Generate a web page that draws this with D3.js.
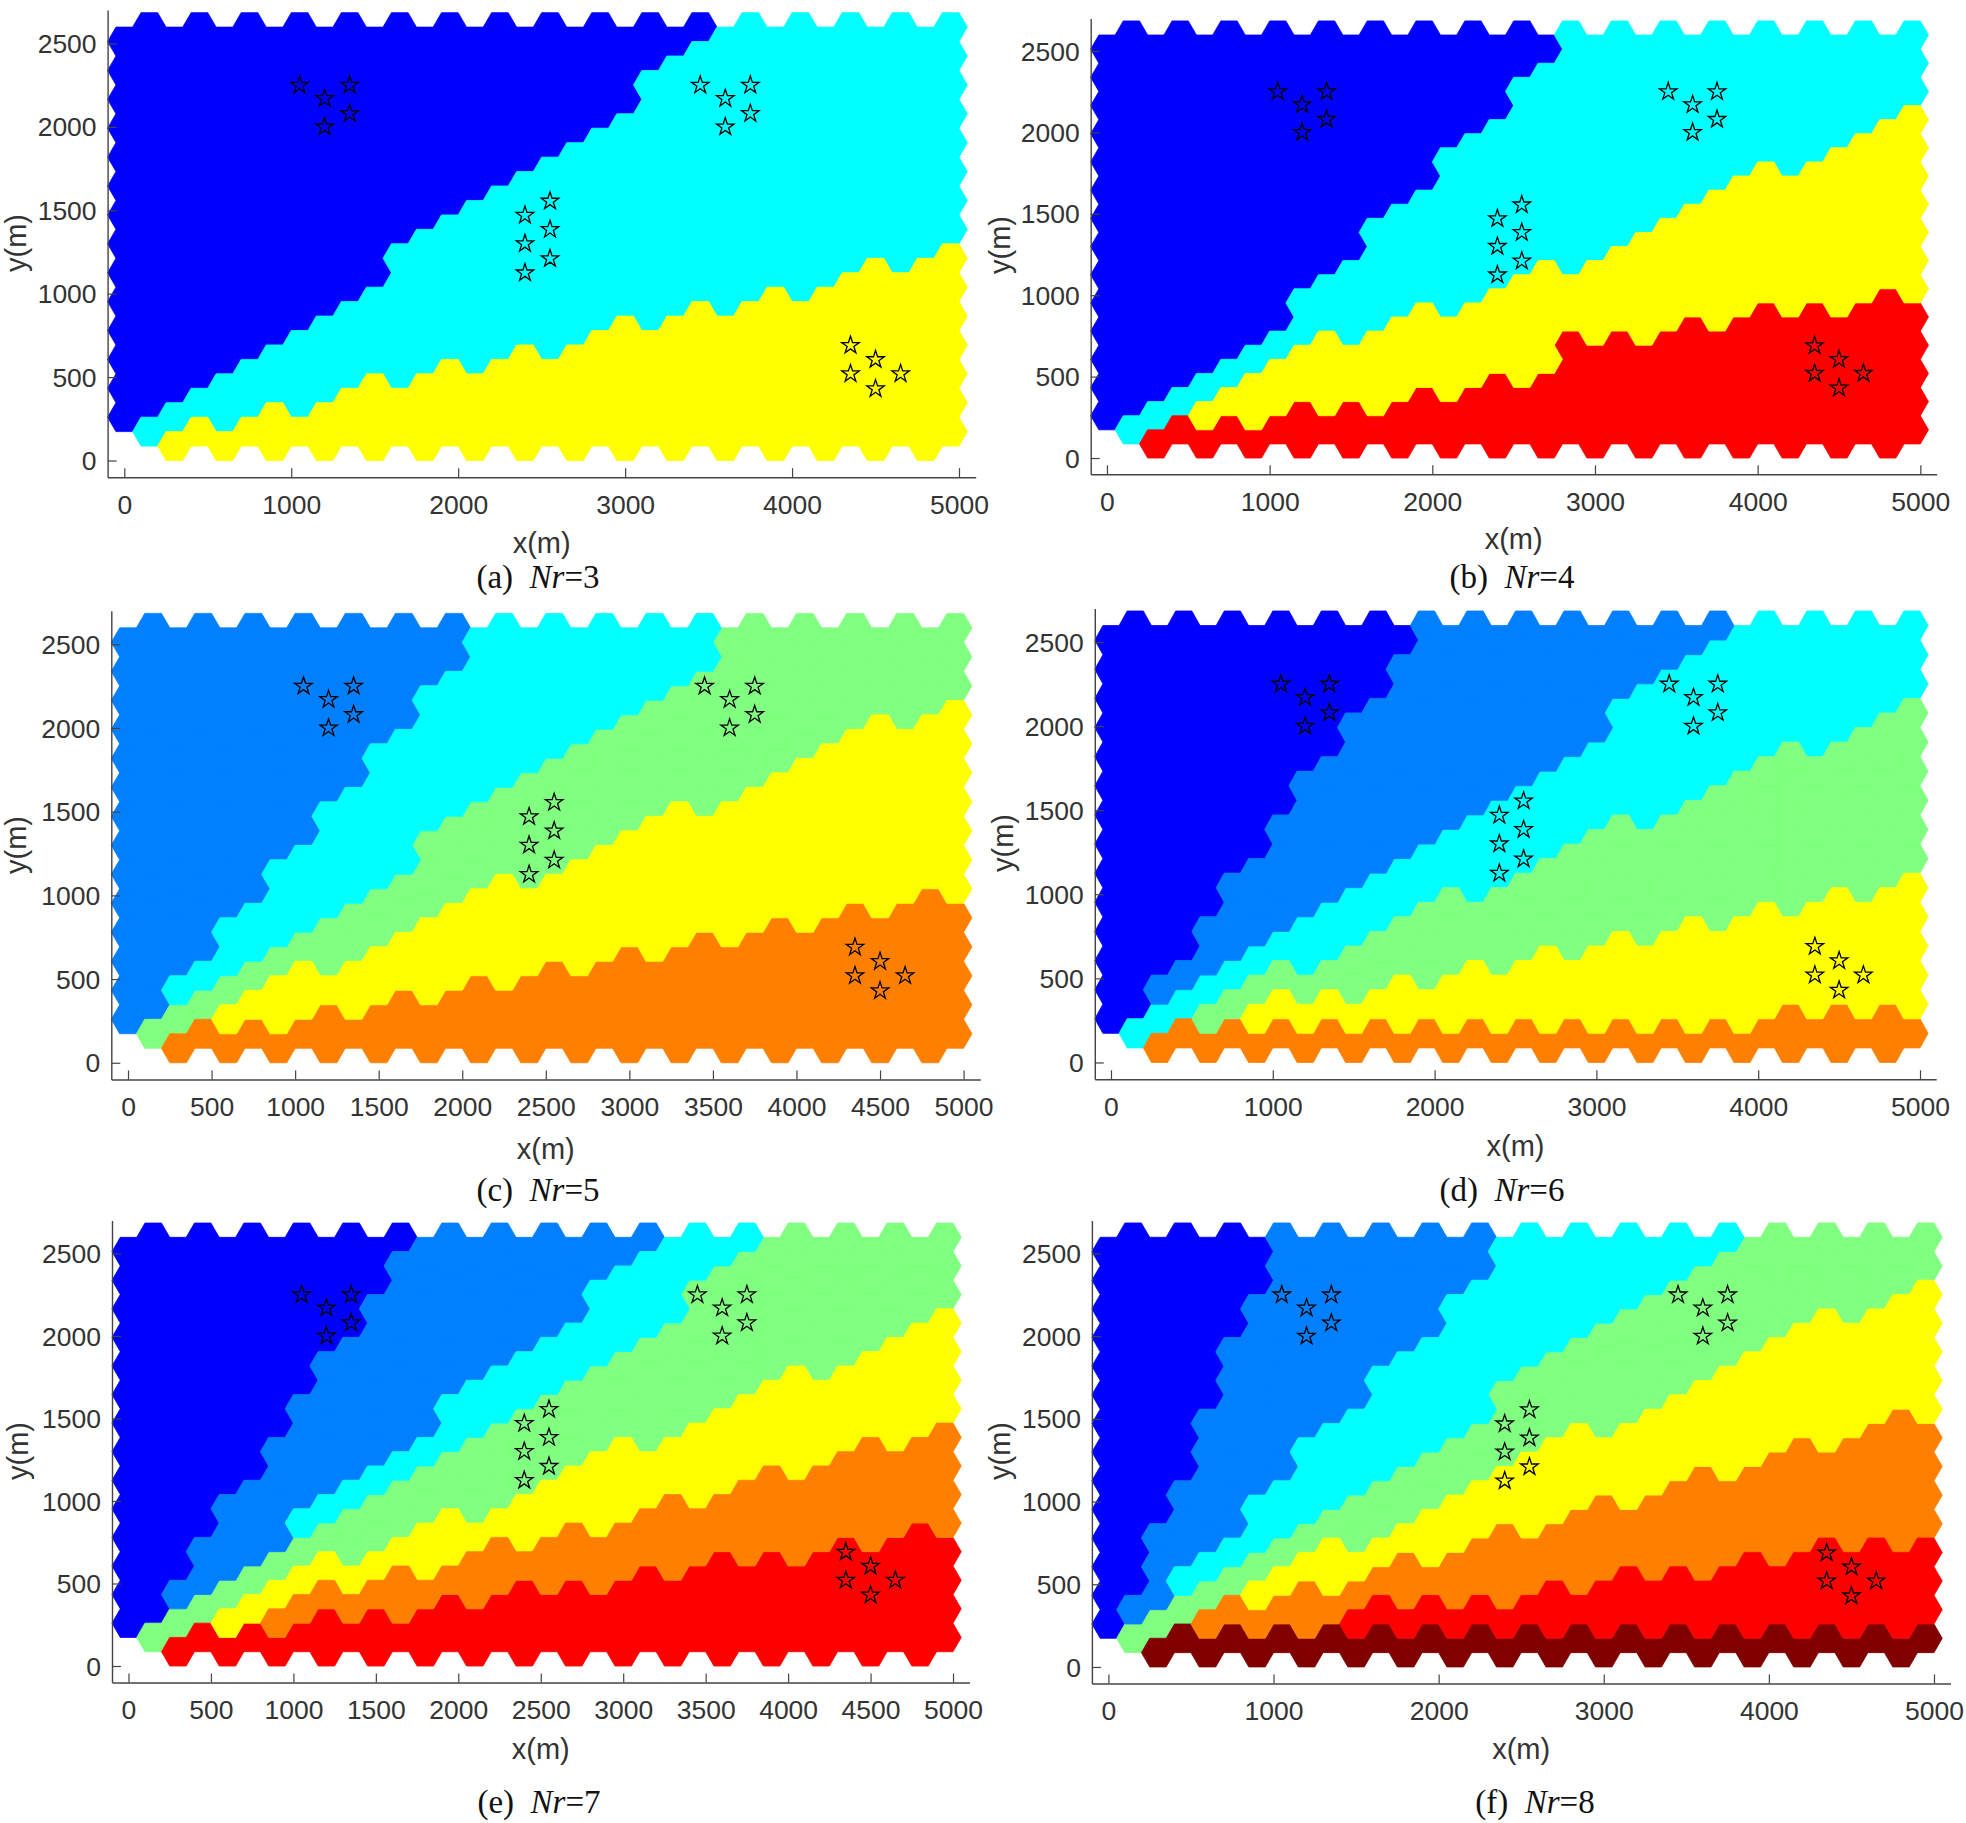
<!DOCTYPE html>
<html>
<head>
<meta charset="utf-8">
<script src="https://d3js.org/d3.v7.min.js"></script>
<style>
html,body{margin:0;padding:0;background:#fff;}
svg{display:block;}
text{font-family:"Liberation Sans",Arial,sans-serif;fill:#333;}
.cap,.cap tspan{font-family:"Liberation Serif","Times New Roman",serif;fill:#111;}
</style>
</head>
<body>
<svg id="fig" width="1966" height="1823" viewBox="0 0 1966 1823"></svg>
<script>
// ---- data ----
const captionsLetter = ["(a)","(b)","(c)","(d)","(e)","(f)"];
const nrValues = [3,4,5,6,7,8];
const yTicks = [0,500,1000,1500,2000,2500];
const xTicks1000 = [0,1000,2000,3000,4000,5000];
const xTicks500 = [0,500,1000,1500,2000,2500,3000,3500,4000,4500,5000];
const starX = [1050,1350,1200,1350,1200, 3450,3750,3600,3750,3600, 2400,2550,2550,2400,2550,2400, 4350,4500,4350,4650,4500];
const starY = [2250,2250,2170,2080,2000, 2250,2250,2170,2080,2000, 1470,1555,1385,1300,1210,1125, 690,605,520,520,430];

const jetBlue="#0000ff",jetAzure="#0080ff",jetCyan="#00ffff",jetGreen="#80ff80",jetYellow="#ffff00",jetOrange="#ff8000",jetRed="#ff0000",jetMaroon="#800000";

// for each hexagon column: the highest half-row index lying below each region boundary
const a1=[1,2,3,4,5,6,7,8,9,10,11,14,15,16,17,18,19,20,21,22,23,26,27,28,29,30,29,30,29,30,29,30,29,30];
const a2=[-1,0,1,2,1,2,3,2,3,4,5,4,5,6,5,6,7,6,7,8,9,8,9,10,9,10,11,10,11,12,13,12,13,14];

const b1=[1,2,3,4,5,6,7,8,11,12,13,16,17,18,21,22,23,26,27,30,29,30,29,30,29,30,29,30,29,30,29,30,29,30];
const b2=[-1,0,1,2,3,4,5,6,7,8,7,8,9,10,9,10,11,12,13,12,13,14,15,16,17,18,19,20,19,20,21,22,23,24];
const b3=[-1,0,1,2,1,2,1,2,3,2,3,2,3,4,3,4,5,4,5,8,7,8,7,8,9,8,9,10,9,10,9,10,11,10];

const c1=[1,2,5,6,9,10,13,14,17,18,21,22,25,26,29,30,29,30,29,30,29,30,29,30,29,30,29,30,29,30,29,30,29,30];
const c2=[1,2,3,4,5,6,7,8,9,10,11,12,15,16,17,18,19,20,21,22,23,24,25,26,29,30,29,30,29,30,29,30,29,30];
const c3=[-1,0,1,2,3,4,5,6,5,6,7,8,9,10,11,12,11,12,13,14,15,16,17,16,17,18,19,20,21,22,23,22,23,24];
const c4=[-1,0,1,2,1,2,1,2,3,2,3,4,3,4,5,4,5,6,5,6,7,6,7,8,7,8,9,8,9,10,9,10,11,10];

const d1=[1,2,5,6,9,12,13,16,19,20,23,24,27,30,29,30,29,30,29,30,29,30,29,30,29,30,29,30,29,30,29,30,29,30];
const d2=[1,2,3,4,5,6,7,8,9,10,11,12,13,14,15,16,17,18,19,20,21,24,25,26,27,28,29,30,29,30,29,30,29,30];
const d3v=[-1,0,1,2,3,4,5,6,5,6,7,8,9,10,11,10,11,12,13,14,15,16,15,16,17,18,19,20,21,20,21,22,23,24];
const d4=[-1,0,1,2,1,2,3,4,3,4,3,4,5,4,5,6,5,6,7,6,7,8,7,8,9,8,9,10,9,10,11,10,11,12];
const d5=[-1,0,1,2,1,2,1,2,1,2,1,2,1,2,1,2,1,2,1,2,1,2,1,2,1,2,1,2,3,2,3,2,3,2];

const e1=[1,2,5,8,11,12,15,18,21,22,25,28,29,30,29,30,29,30,29,30,29,30,29,30,29,30,29,30,29,30,29,30,29,30];
const e2=[1,2,3,4,5,6,7,10,11,12,13,14,15,18,19,20,21,22,23,26,27,28,29,30,29,30,29,30,29,30,29,30,29,30];
const e3=[1,2,3,4,5,6,7,8,9,10,11,12,13,14,15,16,17,18,19,20,21,22,23,26,27,28,29,30,29,30,29,30,29,30];
const e4=[-1,0,1,2,3,4,5,6,7,6,7,8,9,10,9,10,11,12,13,14,15,14,15,16,17,18,19,20,19,20,21,22,23,24];
const e5=[-1,0,1,2,1,2,3,4,5,4,5,6,5,6,7,8,7,8,9,8,9,10,11,10,11,12,13,12,13,14,15,14,15,16];
const e6=[-1,0,1,2,1,2,1,2,3,2,3,2,3,4,3,4,5,4,5,4,5,6,5,6,7,6,7,6,7,8,7,8,9,8];

const f1=[1,4,9,12,17,22,25,30,29,30,29,30,29,30,29,30,29,30,29,30,29,30,29,30,29,30,29,30,29,30,29,30,29,30];
const f2=[1,2,3,6,7,8,11,12,15,16,17,20,21,22,25,26,29,30,29,30,29,30,29,30,29,30,29,30,29,30,29,30,29,30];
const f3=[1,2,3,4,5,6,7,8,9,10,11,12,13,14,15,16,19,20,21,22,23,24,25,26,27,28,29,30,29,30,29,30,29,30];
const f4=[-1,0,1,2,3,4,5,6,7,8,7,8,9,10,11,12,13,14,15,16,15,16,17,18,19,20,21,22,23,24,23,24,25,26];
const f5=[-1,0,1,2,3,4,3,4,5,4,5,6,7,6,7,8,9,8,9,10,11,10,11,12,13,12,13,14,15,14,15,16,17,16];
const f6=[-1,0,1,2,1,2,1,2,1,2,3,4,3,4,3,4,3,4,5,4,5,6,5,6,5,6,7,6,7,8,7,8,7,8];
const f7=[-1,0,1,2,1,2,1,2,1,2,1,2,1,2,1,2,1,2,1,2,1,2,1,2,1,2,1,2,1,2,1,2,1,2];

// ---- layout (pixels) ----
const layout=[
 {bounds:[a1,a2],colors:[jetBlue,jetCyan,jetYellow],
  L:107.6,R:975.7,B:477.2,T:10.1,xt:xTicks1000,xly:545,ylx:18,yly:243,capx:538,capy:579.5},
 {bounds:[b1,b2,b3],colors:[jetBlue,jetCyan,jetYellow,jetRed],
  L:1090.7,R:1936.6,B:474.3,T:18.4,xt:xTicks1000,xly:541,ylx:1002,yly:245,capx:1512,capy:579.5},
 {bounds:[c1,c2,c3,c4],colors:[jetAzure,jetCyan,jetGreen,jetYellow,jetOrange],
  L:111.3,R:980.3,B:1079.5,T:610.8,xt:xTicks500,xly:1151,ylx:18,yly:845,capx:538,capy:1192.5},
 {bounds:[d1,d2,d3v,d4,d5],colors:[jetBlue,jetAzure,jetCyan,jetGreen,jetYellow,jetOrange],
  L:1094.8,R:1936.2,B:1079.3,T:608.4,xt:xTicks1000,xly:1148,ylx:1005,yly:843,capx:1502,capy:1192.5},
 {bounds:[e1,e2,e3,e4,e5,e6],colors:[jetBlue,jetAzure,jetCyan,jetGreen,jetYellow,jetOrange,jetRed],
  L:112,R:969.5,B:1682.5,T:1220.5,xt:xTicks500,xly:1751,ylx:20,yly:1451,capx:539,capy:1804.5},
 {bounds:[f1,f2,f3,f4,f5,f6,f7],colors:[jetBlue,jetAzure,jetCyan,jetGreen,jetYellow,jetOrange,jetRed,jetMaroon],
  L:1091.9,R:1950.5,B:1683.5,T:1220.4,xt:xTicks1000,xly:1751,ylx:1002,yly:1451,capx:1535,capy:1804.5}
];

const svg=d3.select("#fig");
const colStep=150, halfH=86.6, hexR=100, hexTop=50, nCols=34, maxK=30;

layout.forEach((p,pi)=>{
  const g=svg.append("g");
  const x=d3.scaleLinear().domain([-100,5100]).range([p.L,p.R]);
  const y=d3.scaleLinear().domain([-100,2700]).range([p.B,p.T]);

  // hexagon cells
  const cells=[];
  d3.range(nCols).forEach(j=>{
    d3.range(1,maxK+1).forEach(k=>{
      if((j+k)%2===0) return;          // offset columns
      if(j===0&&k<3) return;           // the two missing corner cells
      let cls=0;
      p.bounds.forEach(b=>{ if(k<=b[j]) cls++; });
      cells.push({cx:j*colStep,cy:k*halfH,cls});
    });
  });
  const hexPath=d=>{
    const pts=[[d.cx-hexR,d.cy],[d.cx-hexTop,d.cy+halfH],[d.cx+hexTop,d.cy+halfH],[d.cx+hexR,d.cy],[d.cx+hexTop,d.cy-halfH],[d.cx-hexTop,d.cy-halfH]];
    return "M"+pts.map(q=>x(q[0]).toFixed(2)+","+y(q[1]).toFixed(2)).join("L")+"Z";
  };
  // one compound path per region, so no seams show between the cells
  const regions=Array.from(d3.group(cells,d=>d.cls),([cls,list])=>({cls,d:list.map(hexPath).join("")}));
  g.append("g").selectAll("path").data(regions).join("path")
    .attr("d",d=>d.d)
    .attr("fill",d=>p.colors[d.cls])
    .attr("stroke",d=>p.colors[d.cls])
    .attr("stroke-width",0.8)
    .attr("stroke-linejoin","miter");

  // stars
  const star=d3.symbol().type(d3.symbolStar).size(95);
  g.append("g").selectAll("path").data(starX.map((v,i)=>[v,starY[i]])).join("path")
    .attr("d",star)
    .attr("transform",d=>`translate(${x(d[0])},${y(d[1])})`)
    .attr("fill","none").attr("stroke","#000").attr("stroke-width",1.3);

  // axes
  const axX=d3.axisBottom(x).tickValues(p.xt).tickFormat(d3.format("d")).tickSizeInner(-9).tickSizeOuter(0).tickPadding(18);
  const axY=d3.axisLeft(y).tickValues(yTicks).tickFormat(d3.format("d")).tickSizeInner(-9).tickSizeOuter(0).tickPadding(11);
  const gx=g.append("g").attr("transform",`translate(0,${p.B})`).call(axX);
  const gy=g.append("g").attr("transform",`translate(${p.L},0)`).call(axY);
  [gx,gy].forEach(a=>{
    a.selectAll("path.domain").attr("stroke","#444").attr("stroke-width",1.4);
    a.selectAll("line").attr("stroke","#444").attr("stroke-width",1.2);
    a.selectAll("text").attr("font-size",26.5).attr("fill","#333").attr("font-family",'"Liberation Sans",Arial,sans-serif');
  });
  gy.selectAll("text").attr("transform","translate(0,0.6)");

  g.append("text").attr("x",(p.L+p.R)/2).attr("y",p.xly).attr("text-anchor","middle").attr("dominant-baseline","middle").attr("font-size",29).text("x(m)");
  g.append("text").attr("transform",`translate(${p.ylx},${p.yly}) rotate(-90)`).attr("text-anchor","middle").attr("dominant-baseline","middle").attr("font-size",29).text("y(m)");

  const cap=g.append("text").attr("class","cap").attr("x",p.capx).attr("y",p.capy).attr("text-anchor","middle").attr("dominant-baseline","middle").attr("font-size",33);
  cap.append("tspan").text(captionsLetter[pi]+"\u00a0\u00a0");
  cap.append("tspan").attr("font-style","italic").text("Nr");
  cap.append("tspan").text("="+nrValues[pi]);
});
</script>
</body>
</html>
